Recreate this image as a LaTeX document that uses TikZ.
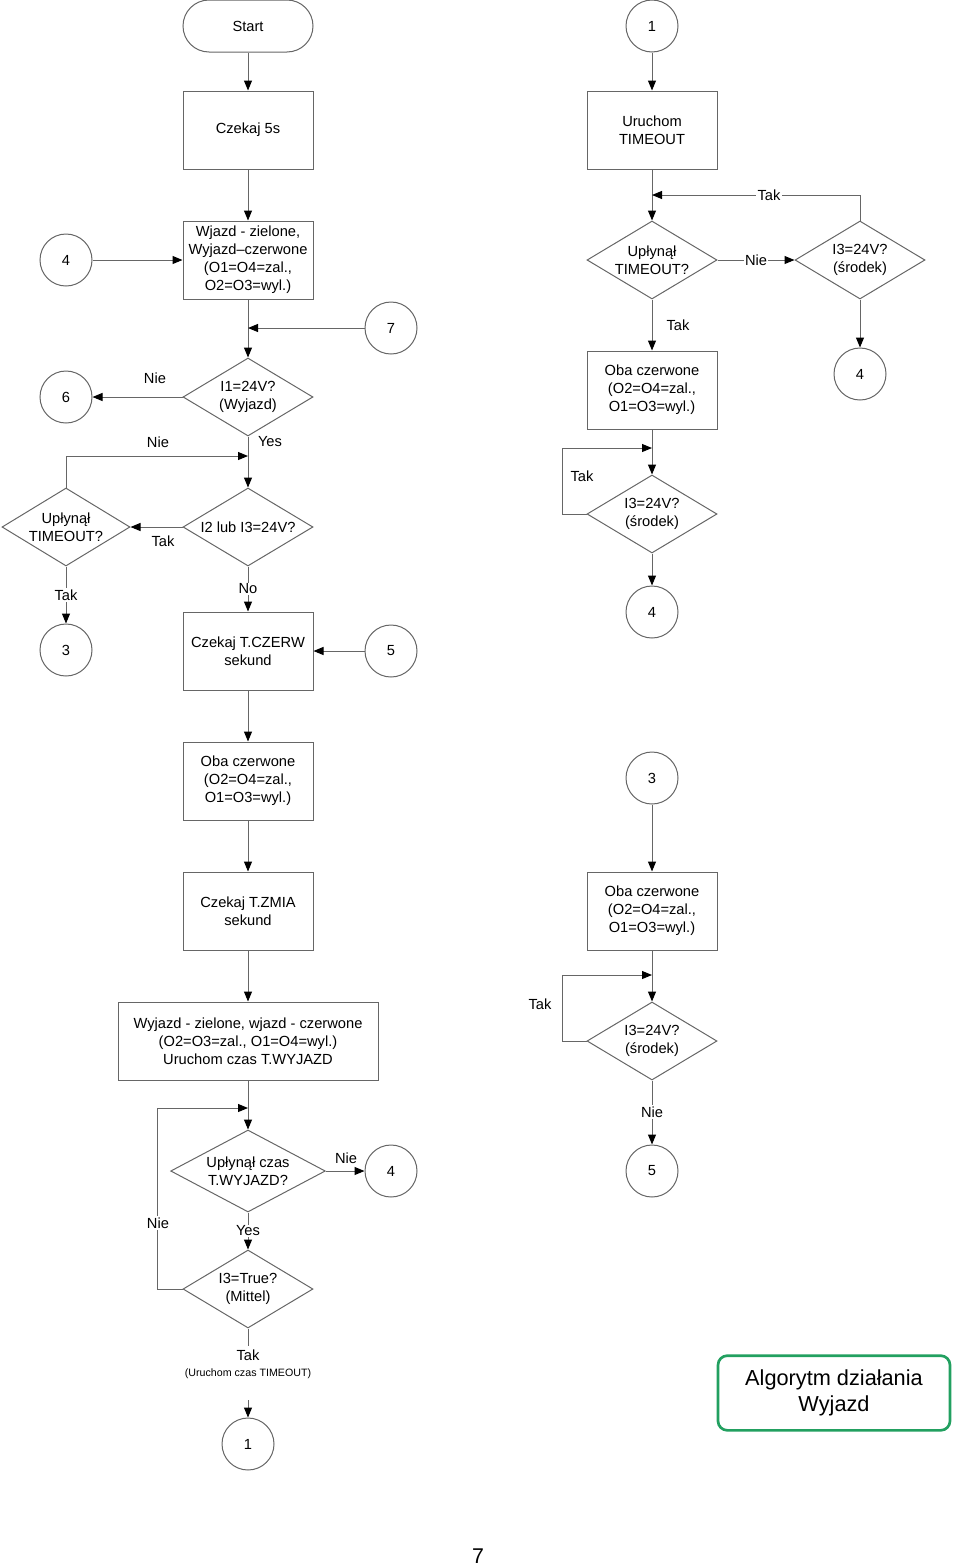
\documentclass[tikz,border=0pt]{standalone}
\usepackage{fontspec}
\setmainfont{Liberation Sans}
\usetikzlibrary{shapes.geometric,arrows.meta}
\definecolor{ln}{HTML}{666666}
\definecolor{grn}{HTML}{22A060}
\tikzset{
  x=0.75pt, y=-0.75pt,
  base/.style={draw=ln, line width=0.75pt, font=\fontsize{11}{13.5}\selectfont, align=center, inner sep=0pt},
  boxnode/.style={base, rectangle, minimum width=97.5pt, minimum height=58.5pt},
  widebox/.style={base, rectangle, minimum width=195pt, minimum height=58.5pt},
  termnode/.style={base, rectangle, rounded corners=19.5pt, minimum width=97.5pt, minimum height=39pt},
  conn/.style={base, circle, minimum size=39pt},
  dia/.style={base, diamond, minimum width=97.5pt, minimum height=58.5pt},
  dtext/.style={font=\fontsize{11}{13.5}\selectfont, align=center, inner sep=0pt},
  lab/.style={font=\fontsize{11}{13.5}\selectfont, inner sep=1pt},
  labw/.style={lab, fill=white},
  arr/.style={draw=ln, line width=0.75pt, -{Triangle[length=7.5pt,width=6pt,color=black]}},
  lin/.style={draw=ln, line width=0.75pt},
}
\begin{document}
\begin{tikzpicture}
\useasboundingbox (0,0) rectangle (960,1567);
% ---------- left column ----------
\node[termnode] (start) at (248,26) {Start};
\node[boxnode] (czek5) at (248,130) {Czekaj 5s};
\node[boxnode] (wjazd) at (248,260) {Wjazd - zielone,\\Wyjazd–czerwone\\(O1=O4=zal.,\\O2=O3=wyl.)};
\node[conn] (c4a) at (66,260) {4};
\node[conn] (c7) at (391,328) {7};
\coordinate (j7) at (248,328);
\node[dia] (d1) at (248,397) {};
\node[dtext] (d1t) at (d1) {I1=24V?\\(Wyjazd)};
\node[conn] (c6) at (66,397) {6};
\coordinate (jn1) at (248,456);
\node[dia] (d2) at (248,527) {};
\node[dtext] (d2t) at (d2) {I2 lub I3=24V?};
\node[dia, minimum width=96pt] (dto) at (66,527) {};
\node[dtext] (dtot) at (dto) {Upłynął\\TIMEOUT?};
\node[conn] (c3) at (66,650) {3};
\node[boxnode] (czerw) at (248,651) {Czekaj T.CZERW\\sekund};
\node[conn] (c5) at (391,651) {5};
\node[boxnode] (oba1) at (248,781) {Oba czerwone\\(O2=O4=zal.,\\O1=O3=wyl.)};
\node[boxnode] (zmia) at (248,911) {Czekaj T.ZMIA\\sekund};
\node[widebox] (wide) at (248,1041) {Wyjazd - zielone, wjazd - czerwone\\(O2=O3=zal., O1=O4=wyl.)\\Uruchom czas T.WYJAZD};
\coordinate (jn2) at (248,1108);
\node[dia, minimum width=116pt, minimum height=61.5pt] (d3) at (248,1171) {};
\node[dtext] (d3t) at (d3) {Upłynął czas\\T.WYJAZD?};
\node[conn] (c4b) at (391,1171) {4};
\node[dia] (d4) at (248,1289) {};
\node[dtext] (d4t) at (d4) {I3=True?\\(Mittel)};
\coordinate (t1) at (248,1346);
\node[lab] (taklab) at (248,1355) {Tak};
\node[font=\fontsize{8}{10}\selectfont, inner sep=0pt] (uruch) at (248,1374) {(Uruchom czas TIMEOUT)};
\coordinate (t2) at (248,1400);
\node[conn] (c1b) at (248,1444) {1};

\draw[arr] (start) -- (czek5);
\draw[arr] (czek5) -- (wjazd);
\draw[arr] (c4a) -- (wjazd);
\draw[arr] (wjazd) -- (d1);
\draw[arr] (c7) -- (j7);
\draw[arr] (d1.west) -- (c6.east);
\node[lab] at (155,378) {Nie};
\draw[arr] (d1.south) -- (d2.north);
\node[lab] at (270,442) {Yes};
\draw[arr] (dto.north) |- (jn1);
\node[lab] at (158,442) {Nie};
\draw[arr] (d2.west) -- (dto.east);
\node[lab] at (163,541) {Tak};
\draw[arr] (dto.south) -- (c3.north);
\node[labw] at (66,595) {Tak};
\draw[arr] (d2.south) -- (czerw.north);
\node[labw] at (248,589) {No};
\draw[arr] (c5) -- (czerw);
\draw[arr] (czerw) -- (oba1);
\draw[arr] (oba1) -- (zmia);
\draw[arr] (zmia) -- (wide);
\draw[arr] (wide.south) -- (d3.north);
\draw[arr] (d4.west) -- ++(-25,0) |- (jn2);
\node[labw] at (158,1223) {Nie};
\draw[arr] (d3.east) -- (c4b.west);
\node[lab] at (346,1158) {Nie};
\draw[arr] (d3.south) -- (d4.north);
\node[labw] at (248,1231) {Yes};
\draw[lin] (d4.south) -- (t1);
\draw[arr] (t2) -- (c1b.north);

% ---------- right column ----------
\node[conn] (c1) at (652,26) {1};
\node[boxnode] (urt) at (652,130) {Uruchom\\TIMEOUT};
\coordinate (jr1) at (652,195);
\node[dia] (d5) at (652,260) {};
\node[dtext] (d5t) at (d5) {Upłynął\\TIMEOUT?};
\node[dia] (d6) at (860,260) {};
\node[dtext] (d6t) at (d6) {I3=24V?\\(środek)};
\node[boxnode] (oba2) at (652,390) {Oba czerwone\\(O2=O4=zal.,\\O1=O3=wyl.)};
\node[conn] (c4c) at (860,374) {4};
\coordinate (jr2) at (652,448);
\node[dia] (d7) at (652,514) {};
\node[dtext] (d7t) at (d7) {I3=24V?\\(środek)};
\node[conn] (c4d) at (652,612) {4};
\node[conn] (c3r) at (652,778) {3};
\node[boxnode] (oba3) at (652,911) {Oba czerwone\\(O2=O4=zal.,\\O1=O3=wyl.)};
\coordinate (jr3) at (652,975);
\node[dia] (d8) at (652,1041) {};
\node[dtext] (d8t) at (d8) {I3=24V?\\(środek)};
\node[conn] (c5r) at (652,1171) {5};

\draw[arr] (c1) -- (urt);
\draw[arr] (urt.south) -- (d5.north);
\draw[arr] (d6.north) |- (jr1);
\node[labw] at (769,195) {Tak};
\draw[arr] (d5.east) -- (d6.west);
\node[labw] at (756,260) {Nie};
\draw[arr] (d5.south) -- (oba2.north);
\node[lab] at (678,325) {Tak};
\draw[arr] (d6.south) -- (c4c.north);
\draw[arr] (oba2.south) -- (d7.north);
\draw[arr] (d7.west) -- ++(-24,0) |- (jr2);
\node[lab] at (582,476) {Tak};
\draw[arr] (d7.south) -- (c4d.north);
\draw[arr] (c3r.south) -- (oba3.north);
\draw[arr] (oba3.south) -- (d8.north);
\draw[arr] (d8.west) -- ++(-24,0) |- (jr3);
\node[lab] at (540,1004) {Tak};
\draw[arr] (d8.south) -- (c5r.north);
\node[labw] at (652,1112) {Nie};

% ---------- title ----------
\node[draw=grn, line width=2pt, rounded corners=7pt, minimum width=174pt, minimum height=56pt, align=center, font=\fontsize{16.3}{19.5}\selectfont, inner sep=0pt] (title) at (834,1393) {Algorytm działania\\Wyjazd};
\node[font=\fontsize{16}{19}\selectfont, inner sep=0pt] (pnum) at (478,1556) {7};
\end{tikzpicture}
\end{document}
